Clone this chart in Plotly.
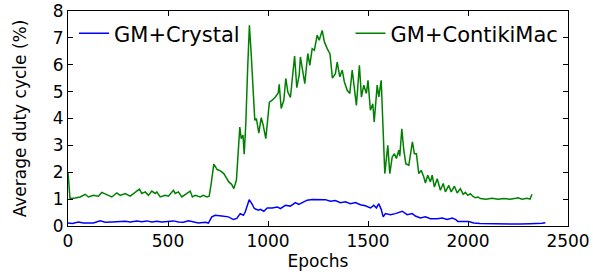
import plotly.graph_objects as go

# GM+ContikiMac (green)
green_x = [0, 10, 36, 61, 86, 102, 127, 152, 169, 186, 202, 219, 244, 261, 286, 311, 336, 357,
           369, 386, 402, 419, 436, 444, 461, 486, 502, 527, 536, 552, 569, 594, 611, 622, 636,
           661, 677, 694, 706, 716, 729, 746, 762, 779, 792, 804, 818, 829, 842, 859, 866, 875,
           881, 889, 898, 907, 916, 926, 934, 942, 954, 966, 976, 989, 1007, 1021, 1037, 1051,
           1056, 1066, 1079, 1089, 1099, 1112, 1133, 1144, 1156, 1162, 1172, 1184, 1199, 1209,
           1221, 1232, 1246, 1256, 1271, 1282, 1296, 1310, 1322, 1337, 1346, 1359, 1371, 1382,
           1396, 1409, 1421, 1432, 1442, 1457, 1467, 1479, 1492, 1500, 1512, 1524, 1531, 1546,
           1554, 1566, 1574, 1584, 1599, 1609, 1621, 1632, 1642, 1654, 1659, 1669, 1679, 1689,
           1704, 1722, 1732, 1742, 1754, 1766, 1779, 1787, 1799, 1812, 1821, 1832, 1846, 1862,
           1876, 1887, 1904, 1916, 1932, 1946, 1962, 1976, 1987, 1999, 2012, 2025, 2037, 2050,
           2062, 2090, 2120, 2150, 2180, 2210, 2240, 2250, 2270, 2295, 2310, 2320]
green_y = [2.0, 1.02, 1.04, 1.08, 1.18, 1.08, 1.14, 1.11, 1.25, 1.18, 1.14, 1.08, 1.23, 1.14,
           1.21, 1.11, 1.27, 1.37, 1.21, 1.27, 1.14, 1.30, 1.21, 1.27, 1.08, 1.14, 1.11, 1.33,
           1.21, 1.27, 1.08, 1.21, 1.30, 1.08, 1.14, 1.08, 1.14, 1.08, 1.11, 1.58, 2.3, 2.1,
           2.05, 1.95, 1.8, 1.64, 1.55, 1.39, 1.7, 3.68, 3.25, 3.38, 2.67, 3.81, 5.8, 7.47, 6.4,
           4.93, 3.93, 4.0, 3.46, 4.03, 3.75, 3.25, 4.61, 4.68, 4.8, 4.95, 5.27, 4.37, 4.68,
           5.49, 4.99, 4.78, 6.32, 5.15, 5.61, 6.29, 5.82, 5.3, 6.42, 5.98, 6.6, 6.54, 7.1,
           6.91, 7.28, 6.85, 6.6, 6.4, 5.5, 5.67, 6.1, 5.55, 5.8, 5.36, 5.05, 4.93, 5.8, 5.05,
           4.49, 5.98, 4.8, 5.24, 4.93, 5.42, 4.31, 4.55, 3.87, 5.24, 4.8, 5.42, 3.75, 1.95,
           3.0, 1.95, 2.57, 2.69, 2.51, 2.82, 2.6, 3.62, 2.82, 2.32, 2.26, 3.13, 2.69, 2.69,
           1.95, 2.07, 1.82, 1.6, 1.89, 1.64, 1.89, 1.45, 1.76, 1.33, 1.58, 1.27, 1.51, 1.27,
           1.48, 1.23, 1.39, 1.18, 1.25, 1.14, 1.2, 1.1, 1.05, 1.08, 1.02, 1.0, 1.03, 1.0,
           1.02, 1.0, 1.03, 1.05, 1.0, 1.03, 1.0, 1.18]

# GM+Crystal (blue)
blue_x = [0, 22, 52, 77, 102, 127, 161, 186, 219, 252, 286, 311, 344, 369, 394, 419, 444, 469,
          502, 527, 552, 577, 602, 627, 652, 686, 702, 719, 736, 769, 802, 827, 844, 861, 877,
          886, 906, 919, 932, 952, 962, 979, 996, 1021, 1046, 1062, 1087, 1112, 1137, 1154,
          1171, 1196, 1221, 1254, 1287, 1312, 1337, 1362, 1387, 1412, 1437, 1462, 1487, 1512,
          1529, 1542, 1554, 1566, 1576, 1587, 1612, 1637, 1671, 1696, 1721, 1737, 1762, 1787,
          1812, 1846, 1871, 1896, 1921, 1937, 1949, 2004, 2029, 2060, 2112, 2160, 2210, 2260,
          2310, 2350, 2370, 2387]
blue_y = [0.11, 0.09, 0.15, 0.11, 0.11, 0.11, 0.19, 0.14, 0.15, 0.16, 0.18, 0.15, 0.19, 0.16,
          0.19, 0.15, 0.18, 0.15, 0.18, 0.19, 0.15, 0.14, 0.19, 0.14, 0.11, 0.14, 0.11, 0.34,
          0.40, 0.37, 0.34, 0.24, 0.28, 0.46, 0.40, 0.52, 0.98, 0.83, 0.65, 0.59, 0.62, 0.55,
          0.67, 0.67, 0.71, 0.65, 0.77, 0.74, 0.87, 0.80, 0.87, 0.96, 0.99, 0.99, 0.98, 0.92,
          0.95, 0.87, 0.90, 0.83, 0.87, 0.79, 0.75, 0.67, 0.77, 0.67, 0.83, 0.62, 0.34, 0.46,
          0.42, 0.46, 0.55, 0.42, 0.46, 0.37, 0.30, 0.34, 0.27, 0.27, 0.30, 0.24, 0.30, 0.25,
          0.17, 0.17, 0.11, 0.09, 0.08, 0.07, 0.08, 0.07, 0.08, 0.08, 0.10, 0.12]

x_ticks = [0, 500, 1000, 1500, 2000, 2500]
y_ticks = [0, 1, 2, 3, 4, 5, 6, 7, 8]

FONT = "DejaVu Sans"

fig = go.Figure()
fig.add_trace(go.Scatter(x=blue_x, y=blue_y, mode="lines", name="GM+Crystal",
                         line=dict(color="#0000ff", width=1.5), legend="legend",
                         showlegend=True))
fig.add_trace(go.Scatter(x=green_x, y=green_y, mode="lines", name="GM+ContikiMac",
                         line=dict(color="#008000", width=1.5), legend="legend2",
                         showlegend=True))

axis_common = dict(showgrid=False, zeroline=False, showline=True, linecolor="black",
                   linewidth=1, mirror="allticks", ticks="inside", ticklen=5,
                   tickcolor="black", tickfont=dict(family=FONT, size=17, color="black"))

fig.update_layout(
    width=593, height=272,
    showlegend=True,
    margin=dict(l=67.5, r=24.7, t=10.7, b=46.3, autoexpand=False),
    paper_bgcolor="white", plot_bgcolor="white",
    font=dict(family=FONT, color="black"),
    xaxis=dict(range=[0, 2500], tickvals=x_ticks, ticktext=[str(v) for v in x_ticks],
               title=dict(text="Epochs", font=dict(family=FONT, size=17), standoff=0),
               **axis_common),
    yaxis=dict(range=[0, 8], tickvals=y_ticks, ticktext=[str(v) for v in y_ticks],
               title=dict(text="Average duty cycle (%)", font=dict(family=FONT, size=17), standoff=21),
               **axis_common),
    legend=dict(x=0.012, y=0.99, xanchor="left", yanchor="top", bgcolor="rgba(0,0,0,0)",
                font=dict(family=FONT, size=21), itemwidth=30),
    legend2=dict(x=0.565, y=0.99, xanchor="left", yanchor="top", bgcolor="rgba(0,0,0,0)",
                 font=dict(family=FONT, size=21), itemwidth=30),
)

fig.write_html("out.html", post_script="document.body.style.margin='0';",
               config={"displayModeBar": False})
